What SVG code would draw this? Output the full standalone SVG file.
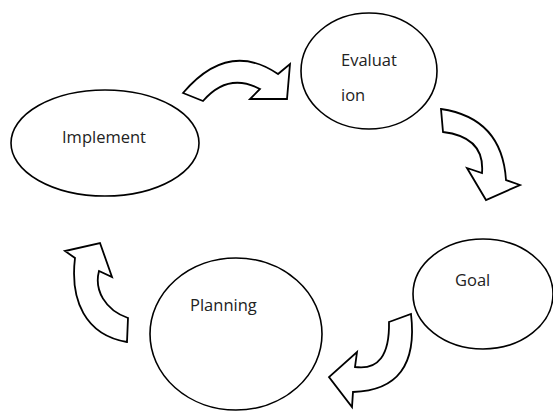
<svg xmlns="http://www.w3.org/2000/svg" width="553" height="411" viewBox="0 0 553 411">
  <style>
    .node ellipse { fill: #ffffff; stroke: #000000; stroke-width: 1.6; }
    .node text { font-family: "Open Sans", "Noto Sans", "DejaVu Sans", sans-serif; font-size: 16.5px; fill: #222222; }
    .arrow { fill: #ffffff; stroke: #000000; stroke-width: 1.8; stroke-linejoin: miter; }
  </style>
  <rect width="553" height="411" fill="#ffffff"/>

  <g id="connectors">
    <!-- Implement -> Evaluation -->
    <path class="arrow" d="M183,93 Q228,40 278,74 L290,64 L287,99 L250,99 L260,89 Q228,72 203,101 Z"/>
    <!-- Evaluation -> Goal -->
    <path class="arrow" d="M441,109 Q502,118 506,180 L520,185 L486,200 L467,168 L482,173 Q485,137 443,132 Z"/>
    <!-- Goal -> Planning -->
    <path class="arrow" d="M389,322 L411,314 Q420,390 353,392 L352,407 L329,377 L357,352 L355,367 Q390,372 389,322 Z"/>
    <!-- Planning -> Implement -->
    <path class="arrow" d="M127,342 C85,335 70,300 75,258 L65,251 L100,243 L112,277 L99,271 C94,290 105,310 128,318 Z"/>
  </g>

  <g id="node-implement" class="node">
    <ellipse cx="105" cy="143" rx="94" ry="53"/>
    <text x="62" y="143">Implement</text>
  </g>

  <g id="node-evaluation" class="node">
    <ellipse cx="369" cy="71" rx="68" ry="58"/>
    <text x="341" y="66">Evaluat</text>
    <text x="341" y="101">ion</text>
  </g>

  <g id="node-goal" class="node">
    <ellipse cx="483" cy="294" rx="70" ry="55"/>
    <text x="455" y="286">Goal</text>
  </g>

  <g id="node-planning" class="node">
    <ellipse cx="236" cy="334" rx="86" ry="76"/>
    <text x="190" y="311">Planning</text>
  </g>
</svg>
